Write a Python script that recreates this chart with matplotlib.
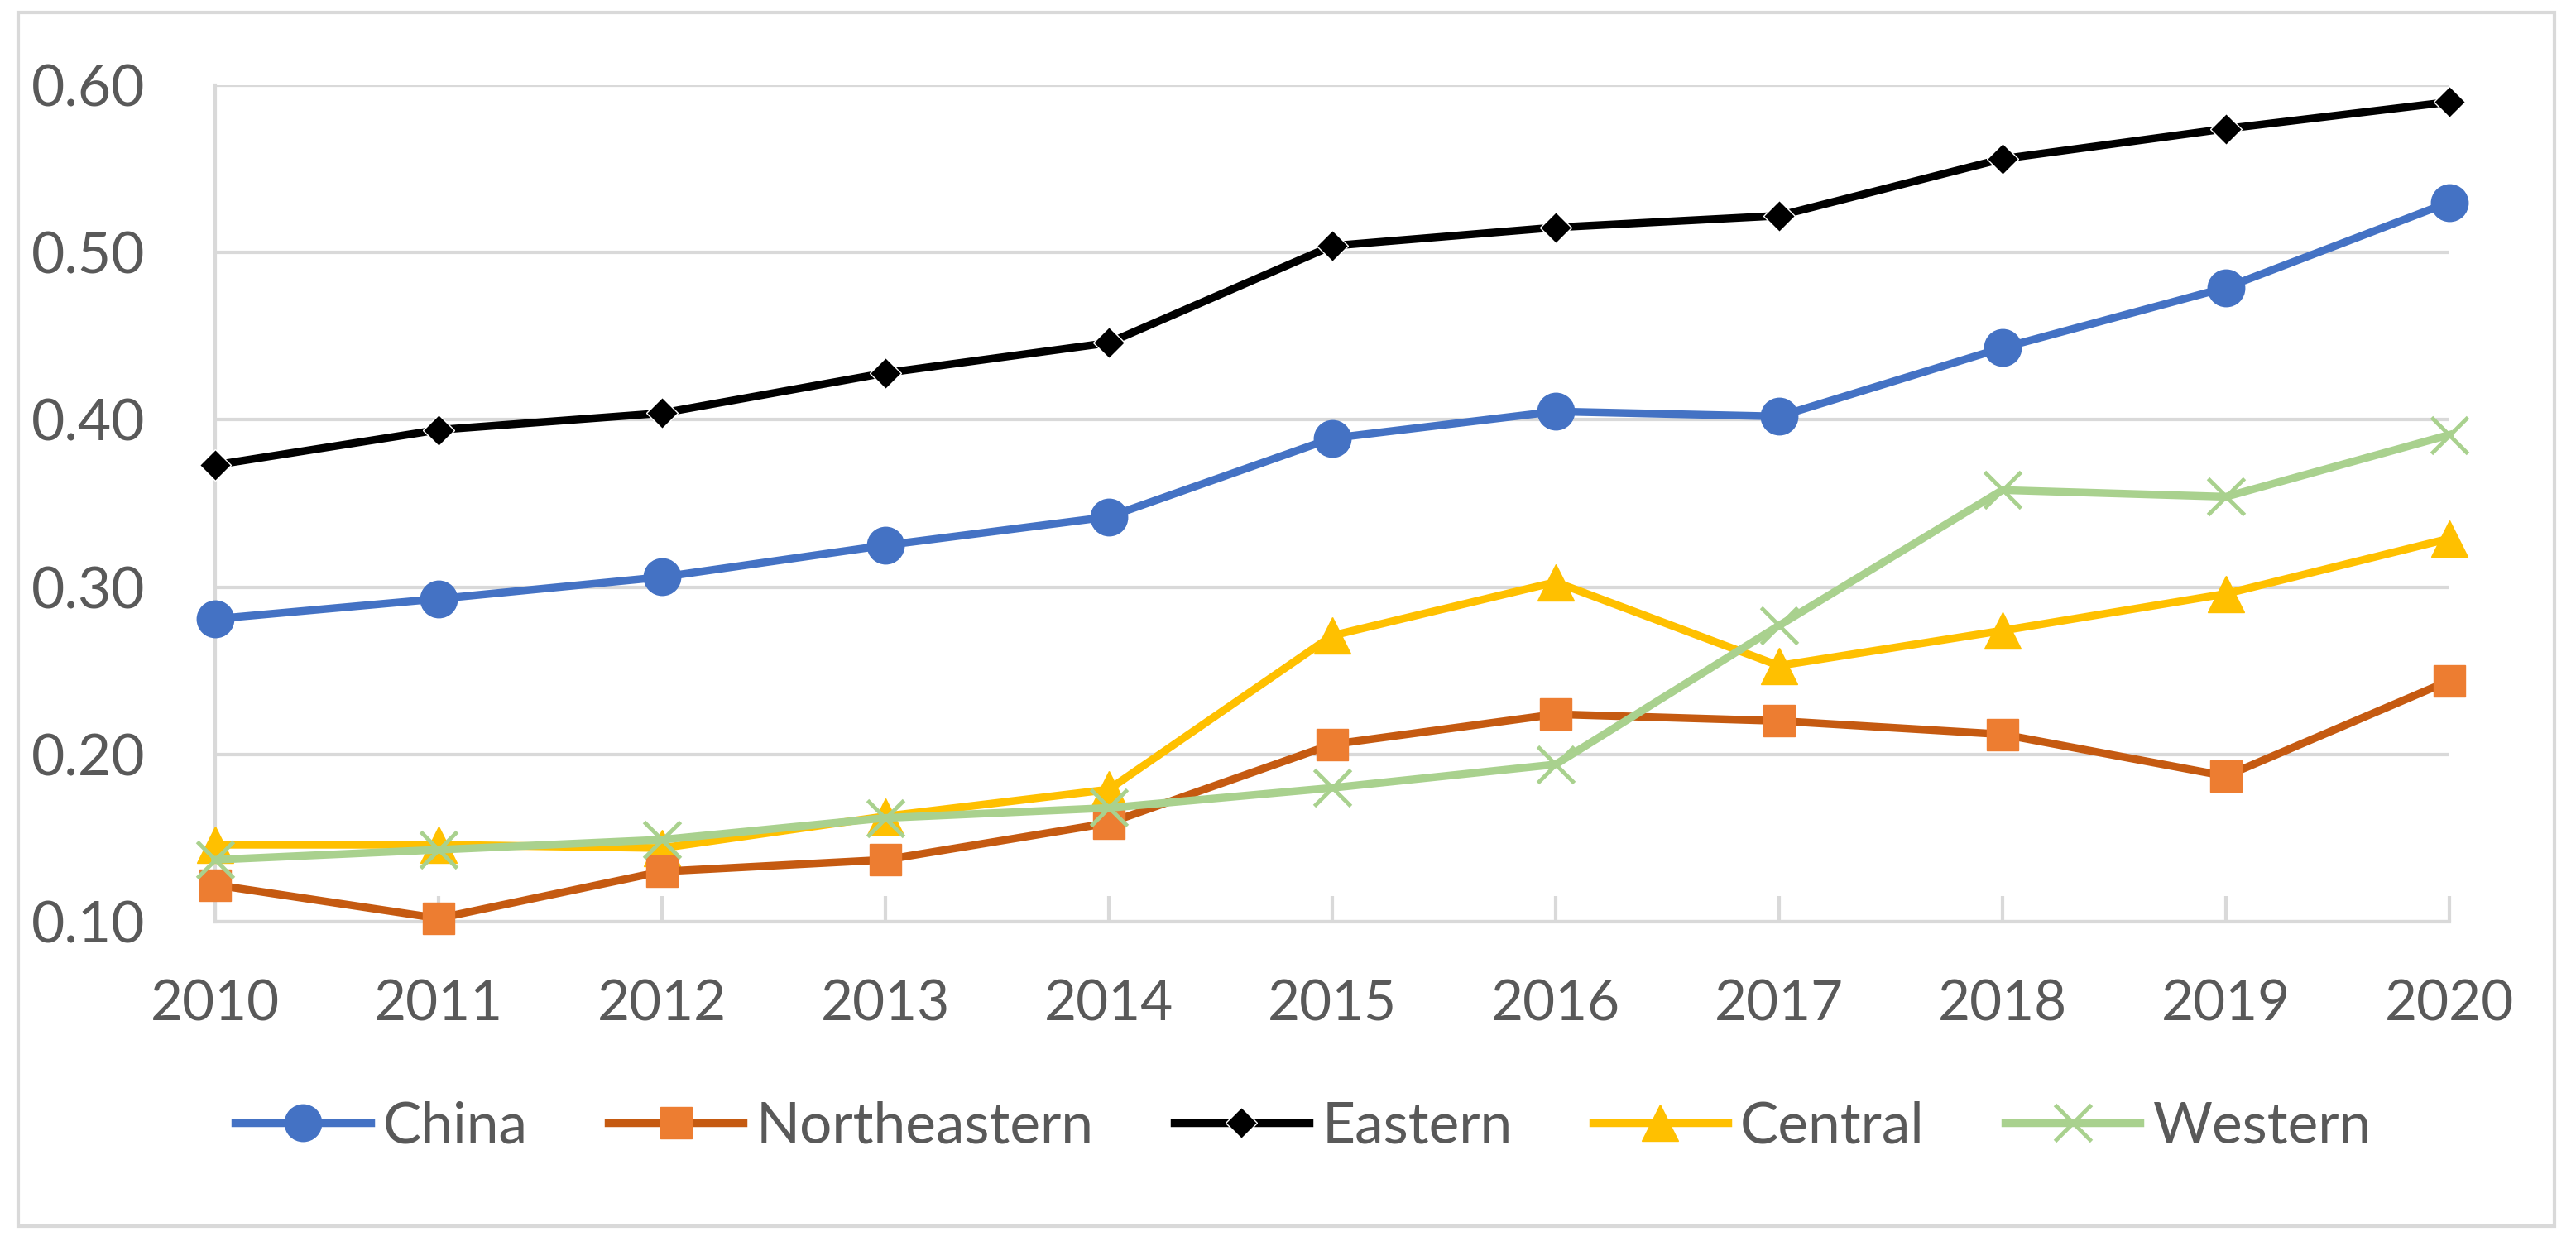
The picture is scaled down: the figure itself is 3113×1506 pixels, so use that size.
import matplotlib
matplotlib.use("Agg")
import matplotlib.pyplot as plt
from matplotlib.patches import Rectangle

years = [2010, 2011, 2012, 2013, 2014, 2015, 2016, 2017, 2018, 2019, 2020]
china = [0.281, 0.293, 0.306, 0.325, 0.342, 0.389, 0.405, 0.402, 0.443, 0.479, 0.530]
northeastern = [0.122, 0.102, 0.130, 0.137, 0.159, 0.206, 0.224, 0.220, 0.212, 0.187, 0.244]
eastern = [0.373, 0.394, 0.404, 0.428, 0.446, 0.504, 0.515, 0.522, 0.556, 0.574, 0.590]
central = [0.146, 0.146, 0.144, 0.163, 0.179, 0.271, 0.303, 0.253, 0.274, 0.296, 0.329]
western = [0.137, 0.143, 0.149, 0.162, 0.168, 0.180, 0.194, 0.277, 0.358, 0.354, 0.391]
yticks = [0.10, 0.20, 0.30, 0.40, 0.50, 0.60]

plt.rcParams['font.family'] = ['Lato', 'DejaVu Sans']
txt = '#595959'
grid = '#d9d9d9'

fig = plt.figure(figsize=(31.13, 15.06), dpi=100)
fig.patches.append(Rectangle((22/3113, 1-1482/1506), (3087-22)/3113, (1482-15)/1506,
                             transform=fig.transFigure, fill=False, edgecolor=grid, linewidth=3))
ax = fig.add_axes([0.0835, 0.2603, 0.8673, 0.6713])

lw = 6.8
ax.plot(years, china, color='#4472C4', lw=lw, marker='o', ms=32, label='China', zorder=5)
ax.plot(years, northeastern, color='#C55A11', lw=lw, marker='s', ms=28, mfc='#ED7D31', mec='#ED7D31',
        label='Northeastern', zorder=4)
ax.plot(years, eastern, color='black', lw=lw, marker='D', ms=19, mec='white', mew=1,
        label='Eastern', zorder=6)
ax.plot(years, central, color='#FFC000', lw=lw, marker='^', ms=32, label='Central', zorder=3)
ax.plot(years, western, color='#A9D18E', lw=lw, marker='x', ms=32, mew=3.5, label='Western', zorder=4)

ax.set_xlim(2010, 2020)
ax.set_ylim(0.10, 0.60)
ax.set_xticks(years)
ax.set_xticklabels([str(y) for y in years])
ax.set_yticks(yticks)
ax.set_yticklabels([f'{v:.2f}' for v in yticks])
ax.yaxis.grid(True, color=grid, lw=3)
ax.set_axisbelow(True)
for s in ['top', 'right']:
    ax.spines[s].set_visible(False)
for s in ['left', 'bottom']:
    ax.spines[s].set_color(grid)
    ax.spines[s].set_linewidth(3)
ax.tick_params(axis='y', length=0, pad=61, labelsize=50, labelcolor=txt)
ax.tick_params(axis='x', direction='in', length=22, width=3, color=grid, pad=50,
               labelsize=48.5, labelcolor=txt)
for l in ax.lines:
    l.set_clip_on(False)

leg = fig.legend(loc='center', bbox_to_anchor=(0.506, 1-1362/1506), ncol=5, frameon=False,
                 fontsize=50, handlelength=2.35, handletextpad=0.22, columnspacing=1.4,
                 labelcolor=txt)

fig.savefig('out.png', dpi=100)
